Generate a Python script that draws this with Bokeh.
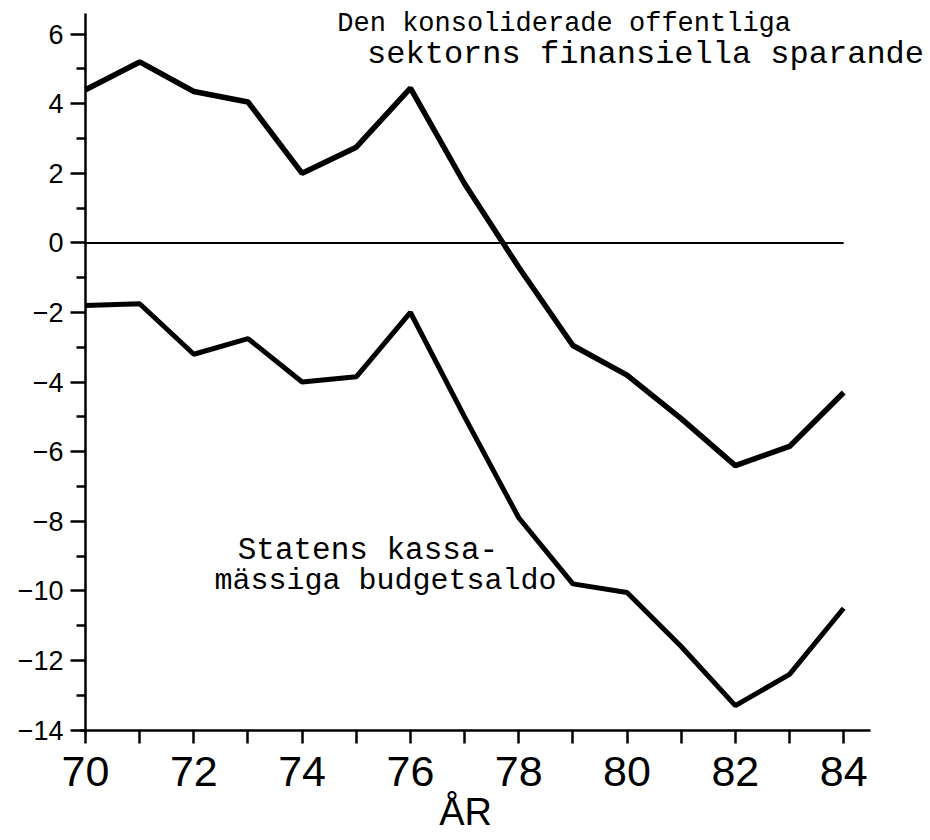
from bokeh.plotting import figure
from bokeh.models import FixedTicker, Label, Range1d
from bokeh.embed import file_html
from bokeh.resources import INLINE

# ---- data ----
years = [70, 71, 72, 73, 74, 75, 76, 77, 78, 79, 80, 81, 82, 83, 84]
konsoliderade_sparande = [4.4, 5.2, 4.35, 4.05, 2.0, 2.75, 4.45, 1.7, -0.7, -2.95, -3.8, -5.05, -6.4, -5.85, -4.3]
statens_budgetsaldo = [-1.8, -1.75, -3.2, -2.75, -4.0, -3.85, -2.0, -5.0, -7.9, -9.8, -10.05, -11.6, -13.3, -12.4, -10.5]

x_major_ticks = [70, 72, 74, 76, 78, 80, 82, 84]
x_minor_ticks = [71, 73, 75, 77, 79, 81, 83]
x_tick_labels = ["70", "72", "74", "76", "78", "80", "82", "84"]
y_major_ticks = [-14, -12, -10, -8, -6, -4, -2, 0, 2, 4, 6]
y_minor_ticks = [-13, -11, -9, -7, -5, -3, -1, 1, 3, 5]
y_tick_labels = ["\u221214", "\u221212", "\u221210", "\u22128", "\u22126", "\u22124", "\u22122", "0", "2", "4", "6"]
zero_level = 0

label_upper = ["Den konsoliderade offentliga", "sektorns finansiella sparande"]
label_lower = ["Statens kassa-", "mässiga budgetsaldo"]
x_title = "ÅR"

# frame covers the whole canvas; axes are pinned inside it
p = figure(width=926, height=836, output_backend="svg", toolbar_location=None,
           x_range=Range1d(68.43, 85.53), y_range=Range1d(-17.06, 6.966),
           min_border=0,
           background_fill_color="white", border_fill_color="white")
p.title.visible = False
p.outline_line_color = None
p.xgrid.visible = False
p.ygrid.visible = False

# axes
p.xaxis.ticker = FixedTicker(ticks=x_major_ticks, minor_ticks=x_minor_ticks)
p.xaxis.major_label_overrides = {t: s for t, s in zip(x_major_ticks, x_tick_labels)}
p.yaxis.ticker = FixedTicker(ticks=y_major_ticks, minor_ticks=y_minor_ticks)
p.yaxis.major_label_overrides = {t: s for t, s in zip(y_major_ticks, y_tick_labels)}
p.xaxis.fixed_location = y_major_ticks[0]
p.yaxis.fixed_location = years[0]
p.xaxis.bounds = (69.9, 84.5)
p.yaxis.bounds = (-14.1, 6.6)

for ax in (p.xaxis[0], p.yaxis[0]):
    ax.axis_line_color = "black"
    ax.axis_line_width = 2.5
    ax.major_tick_line_color = "black"
    ax.major_tick_line_width = 2.5
    ax.minor_tick_line_color = "black"
    ax.minor_tick_line_width = 2.5
    ax.major_tick_in = 0
    ax.minor_tick_in = 0
    ax.major_label_text_color = "black"
    ax.major_label_text_font = "Liberation Sans"

p.xaxis.major_tick_out = 13
p.xaxis.minor_tick_out = 13
p.xaxis.major_label_text_font_size = "43px"
p.xaxis.major_label_standoff = 14

p.yaxis.major_tick_out = 15
p.yaxis.minor_tick_out = 9
p.yaxis.major_label_text_font_size = "27px"
p.yaxis.major_label_standoff = 7

# zero line
p.segment(x0=years[0], x1=years[-1], y0=zero_level, y1=zero_level, line_color="black", line_width=2)

# series
p.line(years, konsoliderade_sparande, line_color="black", line_width=5.5)
p.line(years, statens_budgetsaldo, line_color="black", line_width=5)

mono = "Liberation Mono"
p.add_layout(Label(x=74.65, y=6.3, text=label_upper[0], text_font=mono, text_font_size="27px",
                   text_color="black", text_align="left", text_baseline="alphabetic"))
p.add_layout(Label(x=75.2, y=5.41, text=label_upper[1], text_font=mono, text_font_size="32px",
                   text_color="black", text_align="left", text_baseline="alphabetic"))
p.add_layout(Label(x=72.81, y=-8.84, text=label_lower[0], text_font=mono, text_font_size="31px",
                   text_color="black", text_align="left", text_baseline="alphabetic"))
p.add_layout(Label(x=72.38, y=-9.73, text=label_lower[1], text_font=mono, text_font_size="30px",
                   text_color="black", text_align="left", text_baseline="alphabetic"))

# axis title
p.add_layout(Label(x=77.02, y=-16.35, text=x_title, text_font="Liberation Sans",
                   text_font_size="38px", text_color="black", text_align="center", text_baseline="alphabetic"))

open("out.html", "w").write(file_html(p, INLINE))
